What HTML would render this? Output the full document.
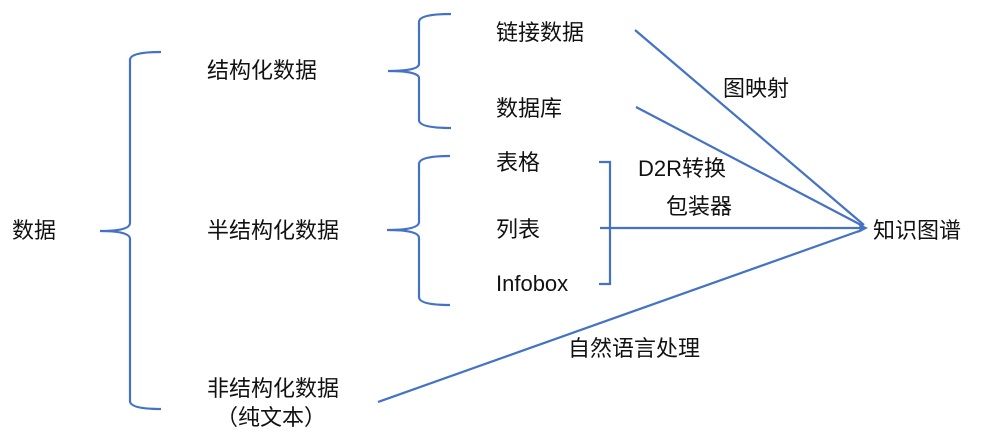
<!DOCTYPE html>
<html><head><meta charset="utf-8"><style>
html,body{margin:0;padding:0;background:#fff;}
svg text{font-family:"Liberation Sans","Noto Sans CJK SC",sans-serif;font-size:22px;fill:#111;}
</style></head><body>
<svg width="987" height="440" viewBox="0 0 987 440" xmlns="http://www.w3.org/2000/svg">
<g fill="none" stroke="#4472c4" stroke-width="2.2">
<path d="M161,52 Q130,52 130,60 L130,223 Q130,231 100,231 Q130,231 130,239 L130,401 Q130,409 161,409"/>
<path d="M451,14 Q419,14 419,22 L419,64 Q419,71 388,71 Q419,71 419,78 L419,120 Q419,128 451,128"/>
<path d="M450,156 Q419,156 419,164 L419,222 Q419,230 387,230 Q419,230 419,238 L419,297 Q419,305 450,305"/>
<path d="M599,162 L610,162 L610,284 L599,284"/>
<line x1="600" y1="228" x2="862" y2="228"/>
<line x1="635" y1="30" x2="864" y2="225"/>
<line x1="636" y1="107" x2="863" y2="226"/>
<line x1="378" y1="402" x2="862" y2="230"/>
</g>
<path d="M868,228 L858,223 L860,228 L858,233 Z" fill="#4472c4"/>
<text x="12" y="238">数据</text>
<text x="207" y="78">结构化数据</text>
<text x="207" y="238">半结构化数据</text>
<text x="207" y="396">非结构化数据</text>
<text x="216" y="425">（纯文本）</text>
<text x="496" y="40">链接数据</text>
<text x="496" y="116">数据库</text>
<text x="496" y="170">表格</text>
<text x="496" y="237">列表</text>
<text x="496" y="291">Infobox</text>
<text x="723" y="96">图映射</text>
<text x="638" y="176">D2R转换</text>
<text x="666" y="214">包装器</text>
<text x="568" y="356">自然语言处理</text>
<text x="873" y="238">知识图谱</text>
</svg>
</body></html>
